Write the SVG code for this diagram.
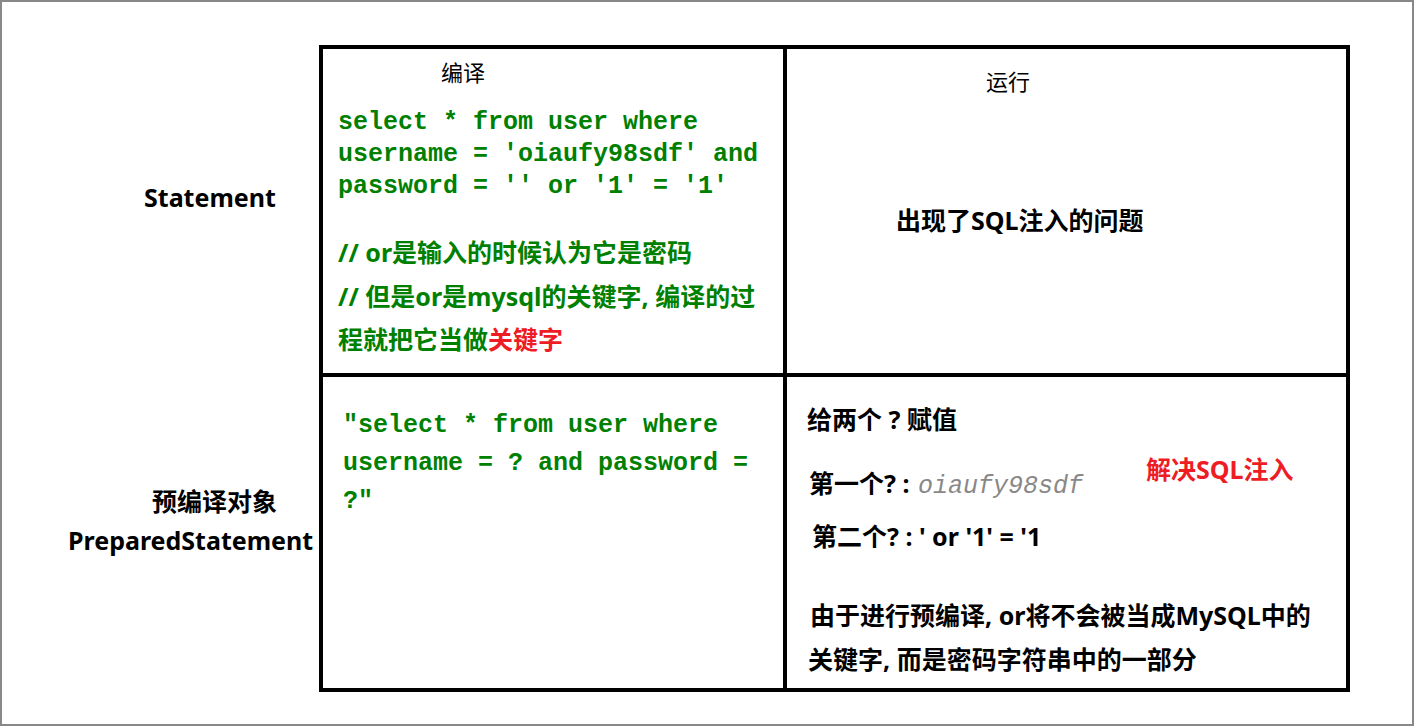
<svg xmlns="http://www.w3.org/2000/svg" width="1414" height="726" viewBox="0 0 1414 726">
<style>
.code{font-family:"Liberation Mono","DejaVu Sans Mono",monospace;font-weight:bold;font-size:25px;fill:#008000}
.cj{font-family:"Noto Sans","Noto Sans CJK SC",sans-serif;font-weight:bold;font-size:25px;fill:#000}
.hd{font-family:"Noto Sans","Noto Sans CJK SC",sans-serif;font-size:22px;fill:#000}
.val{font-family:"Liberation Mono","DejaVu Sans Mono",monospace;font-weight:normal;font-style:italic;font-size:25px;fill:#888}
.g{fill:#008000}
.r{fill:#ee1c25}
.grid{fill:none;stroke:#000;stroke-width:4}
</style>
<rect x="1" y="1" width="1412" height="724" fill="#fff" stroke="#888" stroke-width="2"/>
<g id="table">
<rect class="grid" x="321" y="47" width="1027" height="643"/>
<line class="grid" x1="785" y1="47" x2="785" y2="690"/>
<line class="grid" x1="321" y1="375" x2="1348" y2="375"/>
</g>
<g id="row-statement">
<text class="cj" x="144" y="207">Statement</text>
</g>
<g id="row-prepared">
<text class="cj" x="152" y="511">预编译对象</text>
<text class="cj" x="68" y="550">PreparedStatement</text>
</g>
<g id="header-compile">
<text class="hd" x="441" y="81">编译</text>
</g>
<g id="header-run">
<text class="hd" x="986" y="90">运行</text>
</g>
<g id="cell-statement-compile">
<text class="code" x="338" y="129">select * from user where</text>
<text class="code" x="338" y="161">username = 'oiaufy98sdf' and</text>
<text class="code" x="338" y="193">password = '' or '1' = '1'</text>
<text class="cj g" x="338" y="262">// or是输入的时候认为它是密码</text>
<text class="cj g" x="338" y="306">// 但是or是mysql的关键字, 编译的过</text>
<text class="cj g" x="338" y="349">程就把它当做<tspan class="r">关键字</tspan></text>
</g>
<g id="cell-statement-run">
<text class="cj" x="896" y="230">出现了SQL注入的问题</text>
</g>
<g id="cell-prepared-compile">
<text class="code" x="343" y="432">"select * from user where</text>
<text class="code" x="343" y="470">username = ? and password =</text>
<text class="code" x="343" y="508">?"</text>
</g>
<g id="cell-prepared-run">
<text class="cj" x="807" y="429">给两个 ? 赋值</text>
<text class="cj" x="809" y="493">第一个? :</text>
<text class="val" x="918" y="493">oiaufy98sdf</text>
<text class="cj" x="812" y="546">第二个? : ' or '1' = '1</text>
<text class="cj r" x="1146" y="479">解决SQL注入</text>
<text class="cj" x="810" y="625">由于进行预编译, or将不会被当成MySQL中的</text>
<text class="cj" x="808" y="669">关键字, 而是密码字符串中的一部分</text>
</g>
</svg>
